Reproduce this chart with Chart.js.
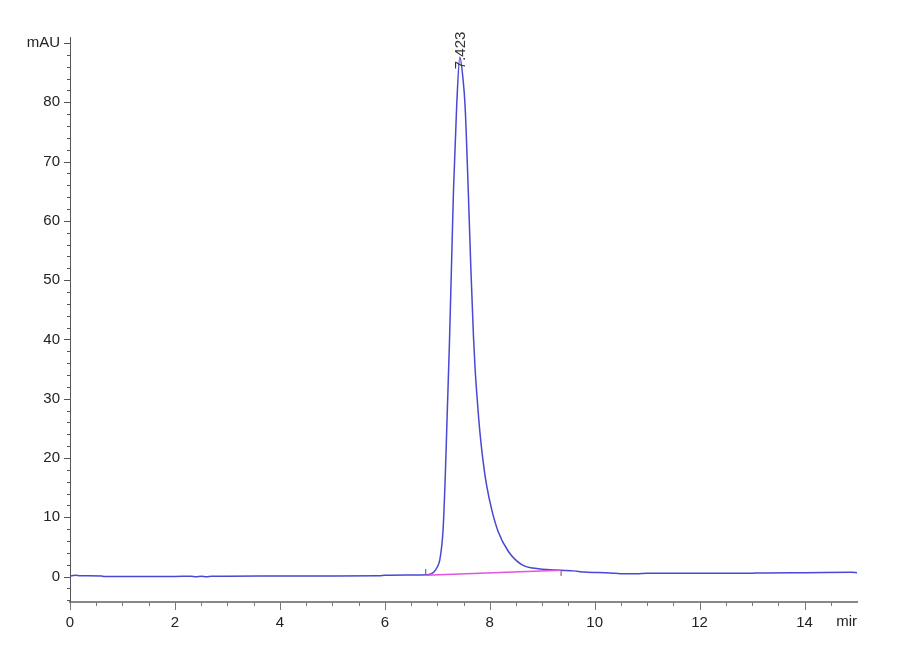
<!DOCTYPE html>
<html>
<head>
<meta charset="utf-8">
<script src="https://cdn.jsdelivr.net/npm/chart.js@4.4.0/dist/chart.umd.min.js"></script>
<style>
  html, body { margin: 0; padding: 0; background: #fff; }
  #wrap { width: 900px; height: 660px; }
</style>
</head>
<body>
<div id="wrap"><canvas id="hplc"></canvas></div>
<script>
// signal trace (min, mAU)
let times = [0.00, 0.10, 0.20, 0.60, 0.65, 1.20, 2.00, 2.30, 2.40, 2.50, 2.60, 2.70, 3.00, 4.00, 5.00, 5.90, 6.00, 6.50, 6.80, 6.88,
  6.94, 7.00, 7.05, 7.11, 7.15, 7.19, 7.23, 7.27, 7.31, 7.37, 7.43, 7.49, 7.53, 7.59, 7.64, 7.69, 7.72, 7.75, 7.79, 7.83,
  7.88, 7.94, 8.04, 8.16, 8.35, 8.61, 8.93, 9.15, 9.34, 9.60, 9.80, 10.29, 10.50, 10.80, 11.00, 12.00, 13.00, 13.10, 14.00, 14.90, 15.00];
let signal = [0.10, 0.20, 0.12, 0.10, 0.00, 0.00, 0.00, 0.05, -0.05, 0.05, -0.05, 0.05, 0.05, 0.08, 0.10, 0.12, 0.20, 0.25, 0.30, 0.45,
  0.8, 1.6, 2.9, 7.8, 16.2, 27.6, 38.8, 52.0, 65.3, 79.4, 87.6, 84.0, 79.4, 65.3, 52.0, 40.5, 35.2, 31.2, 26.6, 22.8,
  19.0, 15.4, 11.2, 7.6, 4.3, 2.0, 1.3, 1.15, 1.05, 0.95, 0.75, 0.6, 0.45, 0.45, 0.55, 0.55, 0.55, 0.6, 0.65, 0.7, 0.65];

// integration baseline and peak bounds
let baseTimes = [6.78, 9.36];
let baseValues = [0.2, 1.07];
let markValues = [0.75, 0.6];

let peakTime = 7.43;
let peakLabel = '7.423';

let yTicks = [0, 10, 20, 30, 40, 50, 60, 70, 80, 90];
let xTicks = [0, 2, 4, 6, 8, 10, 12, 14];

let fontFam = "'Liberation Sans Narrow', 'Liberation Sans', Arial, sans-serif";

let trace = times.map((t, i) => ({ x: t, y: signal[i] }));
let baseline = baseTimes.map((t, i) => ({ x: t, y: baseValues[i] }));
let marks = baseTimes.map((t, i) => ({ x: t, y: markValues[i] }));

// small and big ticks, units, peak label
let extras = {
  id: 'extras',
  afterDraw(chart) {
    let c = chart.ctx, xs = chart.scales.x, ys = chart.scales.y;
    let left = chart.chartArea.left, bottom = chart.chartArea.bottom;
    c.save();
    c.strokeStyle = '#555';
    c.lineWidth = 1;
    for (let v = -4; v <= 90; v += 2) {
      let y = Math.round(ys.getPixelForValue(v)) + 0.5;
      let len = v % 10 === 0 ? 6 : 3;
      c.beginPath(); c.moveTo(left - len, y); c.lineTo(left, y); c.stroke();
    }
    c.strokeStyle = '#777';
    for (let v = 0; v <= 14.5; v += 0.5) {
      let x = Math.round(xs.getPixelForValue(v)) + 0.5;
      let len = v % 2 === 0 ? 8 : 4;
      c.beginPath(); c.moveTo(x, bottom); c.lineTo(x, bottom + len); c.stroke();
    }
    c.fillStyle = '#222';
    c.font = '15px ' + fontFam;
    c.textAlign = 'right';
    c.textBaseline = 'top';
    c.fillText('mir', xs.getPixelForValue(15), bottom + 12);

    let pi = times.indexOf(peakTime);
    let px = xs.getPixelForValue(peakTime), py = ys.getPixelForValue(signal[pi]);
    c.translate(px + 1, py + 12);
    c.rotate(-Math.PI / 2);
    c.font = '15px ' + fontFam;
    c.fillStyle = '#333';
    c.textAlign = 'left';
    c.textBaseline = 'middle';
    c.fillText(peakLabel, 0, 0);
    c.restore();
  }
};

new Chart(document.getElementById('hplc'), {
  type: 'scatter',
  data: {
    datasets: [{
      label: 'baseline',
      data: baseline,
      showLine: true,
      borderColor: '#e055e0',
      borderWidth: 1.5,
      pointRadius: 0
    }, {
      label: 'signal',
      data: trace,
      showLine: true,
      borderColor: '#4848d2',
      borderWidth: 1.5,
      pointRadius: 0,
      cubicInterpolationMode: 'monotone'
    }, {
      label: 'bounds',
      data: marks,
      showLine: false,
      pointStyle: 'line',
      rotation: 90,
      radius: 3,
      borderColor: '#555',
      borderWidth: 1
    }]
  },
  options: {
    responsive: true,
    maintainAspectRatio: false,
    animation: false,
    layout: { padding: { top: 37, right: 43, left: 0, bottom: 0 } },
    plugins: { legend: { display: false }, tooltip: { enabled: false } },
    scales: {
      x: {
        type: 'linear',
        min: 0,
        max: 15,
        afterFit: s => { s.height = 58; },
        afterBuildTicks: s => { s.ticks = xTicks.map(v => ({ value: v })); },
        grid: { drawOnChartArea: false, drawTicks: false },
        border: { color: '#888', width: 2 },
        ticks: { padding: 12, color: '#222', font: { family: fontFam, size: 15 } }
      },
      y: {
        min: -4.3,
        max: 91,
        afterFit: s => { s.width = 70; },
        afterBuildTicks: s => { s.ticks = yTicks.map(v => ({ value: v })); },
        grid: { drawOnChartArea: false, drawTicks: false },
        border: { color: '#555', width: 1 },
        ticks: {
          padding: 10,
          color: '#222',
          font: { family: fontFam, size: 15 },
          callback: v => v === 90 ? 'mAU' : v
        }
      }
    }
  },
  plugins: [extras]
});
</script>
</body>
</html>
